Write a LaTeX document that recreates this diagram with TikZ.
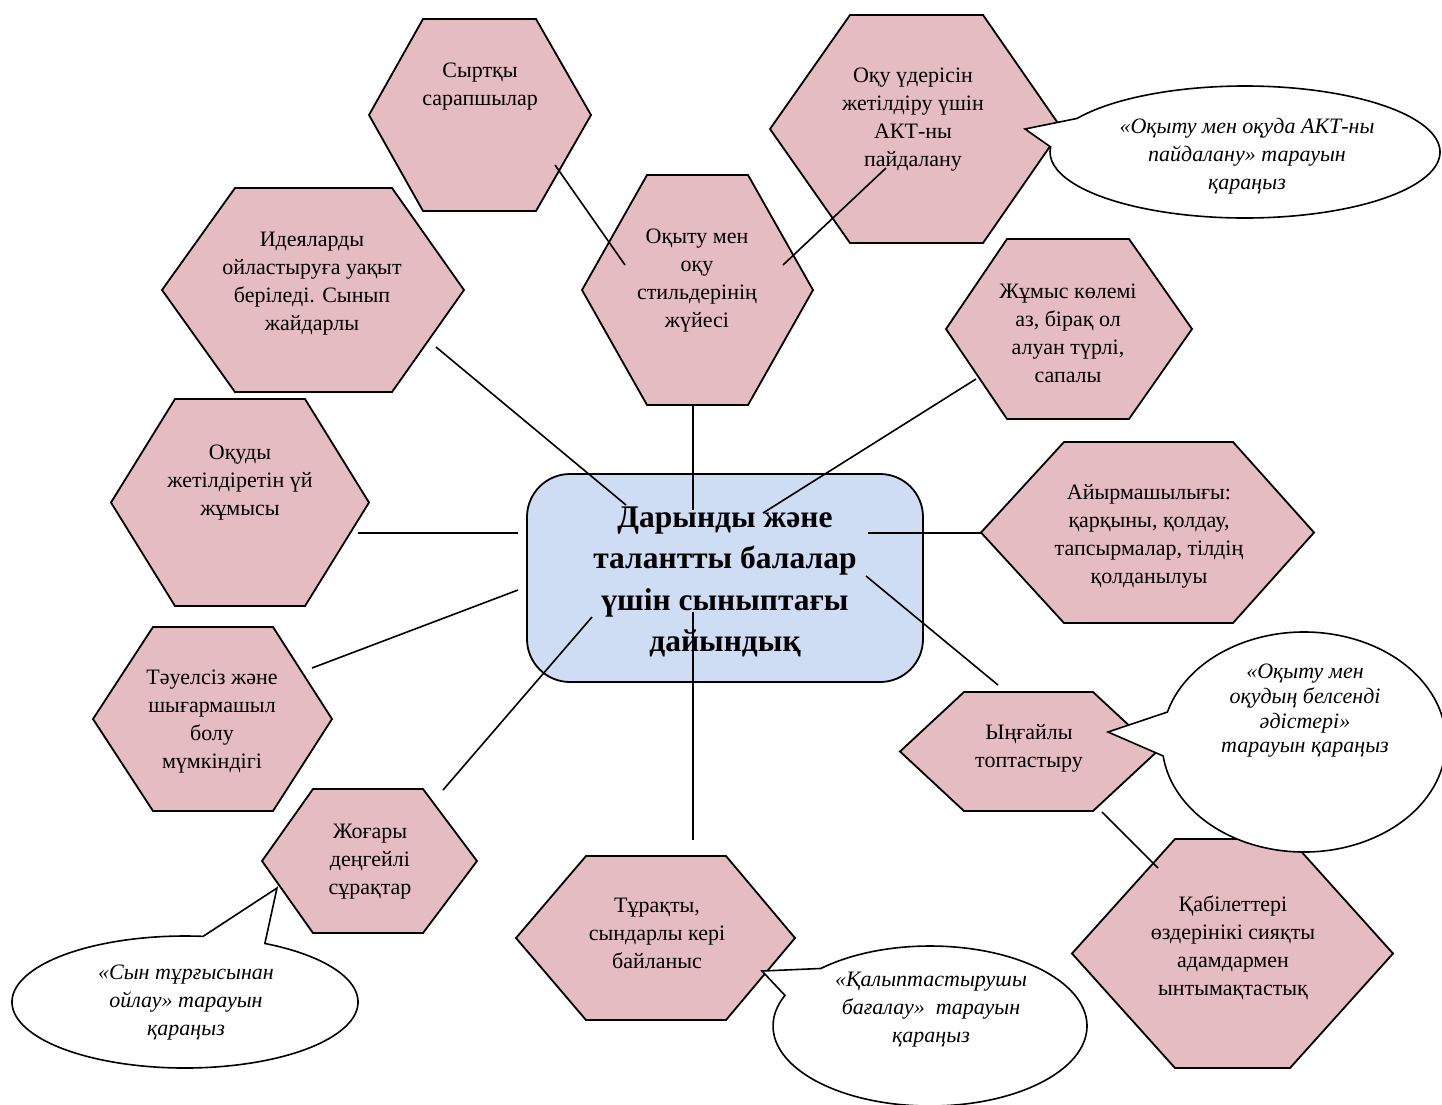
\documentclass[tikz,border=0pt]{standalone}
\usepackage{fontspec}
\setmainfont{Liberation Serif}
\usetikzlibrary{calc}
\definecolor{hexpink}{RGB}{228,188,193}
\definecolor{boxblue}{RGB}{206,220,244}
\newcommand{\hexshape}[6]{\draw[hexfill] ({#1},{(#5+#6)/2}) -- (#2,#5) -- (#3,#5) -- (#4,{(#5+#6)/2}) -- (#3,#6) -- (#2,#6) -- cycle;}
\tikzset{
  hexfill/.style={fill=hexpink, draw=black, line width=1.8pt, line join=miter},
  centerbox/.style={fill=boxblue, draw=black, line width=1.8pt, rounded corners=43pt},
  link/.style={draw=black, line width=1.6pt},
  callout/.style={fill=white, draw=black, line width=1.6pt, line join=miter},
  txt/.style={align=center, inner sep=0pt, font=\fontsize{22}{28}\selectfont},
  ctxt/.style={align=center, inner sep=0pt, font=\fontsize{22}{28}\selectfont\itshape},
  maintxt/.style={align=center, inner sep=0pt, font=\fontsize{31.5}{41.5}\selectfont\bfseries}
}
\begin{document}
\begin{tikzpicture}[x=1pt,y=-1pt]
\useasboundingbox (0,0) rectangle (1442,1104);
\fill[white] (0,0) rectangle (1442,1104);

% hexagons
\hexshape{369}{423}{536}{591}{19}{211}
\hexshape{582}{647}{748}{813}{175}{405}
\hexshape{770}{850}{983}{1062}{15}{243}
\hexshape{946}{1007}{1129}{1192}{239}{419}
\hexshape{162}{235}{392}{464}{188}{392}
\hexshape{111}{175}{305}{369}{399}{606}
\hexshape{93}{153}{273}{332}{627}{811}
\hexshape{262}{313}{423}{477}{789}{933}
\hexshape{516}{586}{726}{795}{856}{1020}
\hexshape{900}{964}{1093}{1157}{692}{811}
\hexshape{1072}{1175}{1290}{1393}{839}{1068}
\hexshape{981}{1064}{1233}{1314}{442}{623}

% central box
\draw[centerbox] (527,474) rectangle (923,682);
\node[maintxt] (main) at (725,582) {Дарынды және\\талантты балалар\\үшін сыныптағы\\дайындық};

% hexagon texts
\node[txt] (hS) at (480,87) {Сыртқы\\сарапшылар};
\node[txt] (hO) at (697,281) {Оқыту мен\\оқу\\стильдерінің\\жүйесі};
\node[txt] (hA) at (913,120) {Оқу үдерісін\\жетілдіру үшін\\АКТ-ны\\пайдалану};
\node[txt] (hJ) at (1068,333) {Жұмыс көлемі\\аз, бірақ ол\\алуан түрлі,\\сапалы};
\node[txt] (hI) at (312,284) {Идеяларды\\ойластыруға уақыт\\беріледі. Сынып\\жайдарлы};
\node[txt] (hU) at (240,483) {Оқуды\\жетілдіретін үй\\жұмысы};
\node[txt] (hT) at (212,722) {Тәуелсіз және\\шығармашыл\\болу\\мүмкіндігі};
\node[txt] (hG) at (370,862) {Жоғары\\деңгейлі\\сұрақтар};
\node[txt] (hR) at (657,933) {Тұрақты,\\сындарлы кері\\байланыс};
\node[txt] (hY) at (1029,748) {Ыңғайлы\\топтастыру};
\node[txt] (hQ) at (1233,948) {Қабілеттері\\өздерінікі сияқты\\адамдармен\\ынтымақтастық};
\node[txt] (hD) at (1149,536) {Айырмашылығы:\\қарқыны, қолдау,\\тапсырмалар, тілдің\\қолданылуы};

% connector end points
\coordinate (a1) at (555,165);  \coordinate (b1) at (625,265);
\coordinate (a2) at (886,168);  \coordinate (b2) at (783,265);
\coordinate (a3) at (693,405);  \coordinate (b3) at (693,510);
\coordinate (a4) at (436,347);  \coordinate (b4) at (626,505);
\coordinate (a5) at (976,379);  \coordinate (b5) at (763,513);
\coordinate (a6) at (358,533);  \coordinate (b6) at (518,533);
\coordinate (a7) at (868,533);  \coordinate (b7) at (981,533);
\coordinate (a8) at (312,668);  \coordinate (b8) at (518,590);
\coordinate (a9) at (866,576);  \coordinate (b9) at (998,685);
\coordinate (a10) at (443,790); \coordinate (b10) at (592,617);
\coordinate (a11) at (693,612); \coordinate (b11) at (693,840);
\coordinate (a12) at (1102,812); \coordinate (b12) at (1158,868);
\foreach \i in {1,...,12} {\draw[link] (a\i) -- (b\i);}

% callouts
\coordinate (e1) at (1245,152);
\coordinate (t1) at (1025,129);
\draw[callout] ($(e1)+(210.6:195 and 66)$) arc[start angle=210.6, end angle=544.4, x radius=195, y radius=66] -- (t1) -- cycle;
\node[ctxt] (c1) at (1247,156) {«Оқыту мен оқуда АКТ-ны\\пайдалану» тарауын\\қараңыз};

\coordinate (e2) at (1304,742);
\coordinate (t2) at (1108,732);
\draw[callout] ($(e2)+(195.8:142 and 110)$) arc[start angle=195.8, end angle=532.7, x radius=142, y radius=110] -- (t2) -- cycle;
\node[ctxt, font=\fontsize{22}{24.7}\selectfont\itshape] (c2) at (1305,711) {«Оқыту мен\\оқудың белсенді\\әдістері»\\тарауын қараңыз};

\coordinate (e3) at (185,1002);
\coordinate (t3) at (277,888);
\draw[callout] ($(e3)+(-62.5:173 and 66)$) arc[start angle=-62.5, end angle=276, x radius=173, y radius=66] -- (t3) -- cycle;
\node[ctxt] (c3) at (186,1003) {«Сын тұрғысынан\\ойлау» тарауын\\қараңыз};

\coordinate (e4) at (930,1026);
\coordinate (t4) at (762,971);
\draw[callout] ($(e4)+(226:157 and 80)$) arc[start angle=226, end angle=562.5, x radius=157, y radius=80] -- (t4) -- cycle;
\node[ctxt] (c4) at (931,1010) {«Қалыптастырушы\\бағалау»\ \ тарауын\\қараңыз};
\end{tikzpicture}
\end{document}
